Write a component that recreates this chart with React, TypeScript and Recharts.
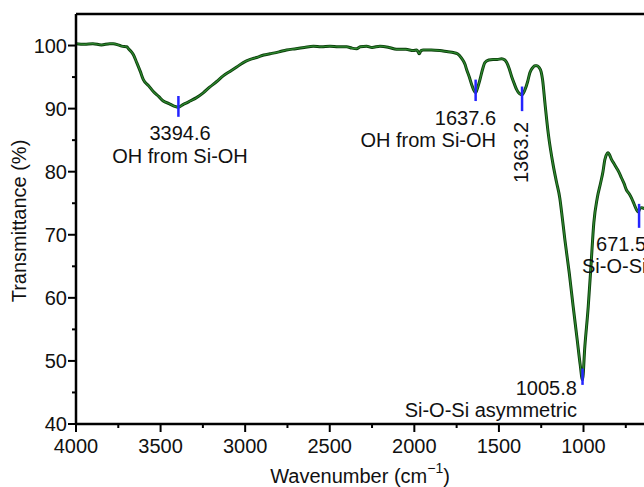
import { LineChart, Line, XAxis, YAxis, ReferenceLine, ReferenceDot, Label } from 'recharts';

// FTIR spectrum (wavenumber in cm-1, descending)
const wavenumber = [
  4000, 3950, 3900, 3850, 3800, 3780, 3750, 3730, 3700, 3690, 3670, 3660, 3641, 3620, 3602,
  3570, 3543, 3510, 3484, 3450, 3420, 3395, 3370, 3340, 3326, 3290, 3248, 3210, 3168, 3130,
  3090, 3050, 3011, 2970, 2932, 2890, 2853, 2800, 2755, 2700, 2650, 2597, 2550, 2499, 2450,
  2400, 2370, 2341, 2320, 2282, 2250, 2203, 2150, 2105, 2050, 2006, 1985, 1971, 1960, 1947,
  1900, 1849, 1800, 1770, 1745, 1721, 1700, 1691, 1675, 1661, 1650, 1638, 1625, 1612, 1597,
  1583, 1560, 1534, 1510, 1484, 1465, 1454, 1440, 1425, 1410, 1395, 1380, 1363, 1346, 1330,
  1317, 1300, 1287, 1275, 1262, 1250, 1242, 1228, 1208, 1179, 1160, 1140, 1125, 1110, 1084,
  1061, 1037, 1020, 1006, 992, 972, 956, 939, 919, 899, 885, 874, 860, 854, 845,
  834, 820, 805, 790, 775, 760, 746, 730, 716, 700, 687, 675, 667, 655, 640,
];
const transmittance = [
  100.3, 100.2, 100.3, 100.1, 100.3, 100.3, 100.1, 99.9, 99.8, 99.5, 98.9, 98.5, 97.3, 95.9, 94.6,
  93.6, 92.7, 91.9, 91.2, 90.8, 90.4, 90.2, 90.6, 91.0, 91.2, 91.7, 92.5, 93.4, 94.3, 95.2,
  95.9, 96.6, 97.3, 97.8, 98.1, 98.5, 98.7, 99.0, 99.3, 99.5, 99.7, 99.9, 99.8, 99.9, 99.8,
  99.8, 99.6, 99.5, 99.8, 99.9, 99.7, 99.9, 99.7, 99.4, 99.4, 99.2, 99.3, 98.7, 99.2, 99.3,
  99.3, 99.2, 99.0, 98.9, 98.7, 98.0, 97.0, 96.2, 95.0, 93.8, 93.0, 92.5, 93.4, 94.6, 96.2,
  97.3, 97.7, 97.8, 97.8, 97.9, 97.7, 97.3, 96.4, 95.1, 94.0, 93.0, 92.4, 92.2, 93.0, 94.3,
  95.7, 96.5, 96.8, 96.8, 96.5, 95.8, 94.6, 90.9, 86.0, 81.0, 78.4, 75.8, 72.6, 69.2, 63.9,
  58.6, 53.3, 49.5, 47.0, 52.3, 58.6, 65.0, 71.9, 75.8, 78.2, 80.0, 81.9, 82.9, 83.0, 82.6,
  81.9, 81.3, 80.6, 79.9, 79.0, 78.1, 77.1, 76.5, 75.8, 74.8, 74.0, 73.6, 74.2, 74.3, 74.1,
];

// blue peak markers
const peakWn = [3394.6, 1637.6, 1363.2, 1005.8, 671.5];
const peakLow = [88.7, 91.2, 89.6, 46.2, 71.1];
const peakHigh = [92.0, 94.6, 93.5, 48.8, 74.9];

// annotation lines (one entry per text line)
const noteText = ['3394.6', 'OH from Si-OH', '1637.6', 'OH from Si-OH', '1363.2', '1005.8', 'Si-O-Si asymmetric', '671.5', 'Si-O-Si'];
const noteWn = [3385, 3385, 1517, 1517, 1328, 1039, 1039, 926, 1009];
const noteT = [85.0, 81.4, 87.4, 83.9, 87.9, 44.6, 41.1, 67.4, 63.9];
const noteAnchor = ['middle', 'middle', 'end', 'end', 'end', 'end', 'end', 'start', 'start'];
const noteRotate = [0, 0, 0, 0, -90, 0, 0, 0, 0];

const xTicks = [4000, 3750, 3500, 3250, 3000, 2750, 2500, 2250, 2000, 1750, 1500, 1250, 1000, 750];
const yTicks = [40, 45, 50, 55, 60, 65, 70, 75, 80, 85, 90, 95, 100];

const data = wavenumber.map((wn, i) => ({ wn, t: transmittance[i] }));

const FONT = '"Liberation Sans", Arial, Helvetica, sans-serif';
const INK = '#111';

function YTick({ x, y, payload }: any) {
  const major = payload.value % 10 === 0;
  return (
    <g>
      <line x1={x - (major ? 8 : 4)} x2={x} y1={y} y2={y} stroke="#000" strokeWidth={2} />
      {major && (
        <text x={x - 9} y={y} dy={7} textAnchor="end" fontFamily={FONT} fontSize={20} fill={INK}>
          {payload.value}
        </text>
      )}
    </g>
  );
}

function XTick({ x, y, payload }: any) {
  const major = payload.value % 500 === 0;
  return (
    <g>
      <line x1={x} x2={x} y1={y} y2={y + (major ? 8 : 4)} stroke="#000" strokeWidth={2} />
      {major && (
        <text x={x} y={y + 29} textAnchor="middle" fontFamily={FONT} fontSize={20} fill={INK}>
          {payload.value}
        </text>
      )}
    </g>
  );
}

function XTitle({ viewBox }: any) {
  const cx = viewBox.x + 284;
  const by = viewBox.y + 59;
  return (
    <text x={cx} y={by} textAnchor="middle" fontFamily={FONT} fontSize={20} fill={INK}>
      <tspan>Wavenumber (cm</tspan>
      <tspan dy={-10} fontSize={14}>−1</tspan>
      <tspan dy={10}>)</tspan>
    </text>
  );
}

function YTitle({ viewBox }: any) {
  const x = viewBox.x + 26;
  const y = viewBox.y + viewBox.height / 2 + 2;
  return (
    <text x={x} y={y} textAnchor="middle" transform={`rotate(-90, ${x}, ${y})`} fontFamily={FONT} fontSize={20} fill={INK}>
      Transmittance (%)
    </text>
  );
}

function Note({ viewBox, text, anchor, rot }: any) {
  const x = viewBox.x;
  const y = viewBox.y;
  return (
    <text
      x={x}
      y={y}
      textAnchor={anchor}
      transform={rot ? `rotate(${rot}, ${x}, ${y})` : undefined}
      fontFamily={FONT}
      fontSize={20}
      fill={INK}
    >
      {text}
    </text>
  );
}

export default function App() {
  return (
    <div style={{ position: 'fixed', left: 0, top: 0, width: 644, height: 487, overflow: 'hidden', background: '#fff' }}>
      <LineChart width={700} height={487} data={data} margin={{ top: 14, right: 15, bottom: 0, left: 0 }}>
        <XAxis
          type="number"
          dataKey="wn"
          domain={[400, 4000]}
          reversed
          ticks={xTicks}
          interval={0}
          height={63}
          tickSize={0}
          tickMargin={0}
          tickLine={false}
          axisLine={{ stroke: '#000', strokeWidth: 2.5 }}
          tick={<XTick />}
        >
          <Label content={<XTitle />} />
        </XAxis>
        <YAxis
          type="number"
          domain={[40, 105]}
          ticks={yTicks}
          interval={0}
          width={76}
          tickSize={0}
          tickMargin={0}
          tickLine={false}
          axisLine={{ stroke: '#000', strokeWidth: 2.5 }}
          tick={<YTick />}
        >
          <Label content={<YTitle />} />
        </YAxis>
        <ReferenceLine y={105} stroke="#000" strokeWidth={2.5} />
        <ReferenceLine x={400} stroke="#000" strokeWidth={2.5} />
        <Line
          type="monotone"
          dataKey="t"
          stroke="#0c3f0c"
          strokeWidth={3}
          dot={false}
          activeDot={false}
          isAnimationActive={false}
        />
        <Line
          type="monotone"
          dataKey="t"
          stroke="#2f8a2f"
          strokeWidth={1.2}
          dot={false}
          activeDot={false}
          isAnimationActive={false}
        />
        {peakWn.map((wn, i) => (
          <ReferenceLine
            key={`p${i}`}
            segment={[{ x: wn, y: peakLow[i] }, { x: wn, y: peakHigh[i] }]}
            stroke="#2424ff"
            strokeWidth={2.5}
          />
        ))}
        {noteText.map((text, i) => (
          <ReferenceDot
            key={`n${i}`}
            x={noteWn[i]}
            y={noteT[i]}
            r={0}
            fill="none"
            stroke="none"
            label={<Note text={text} anchor={noteAnchor[i]} rot={noteRotate[i]} />}
          />
        ))}
      </LineChart>
    </div>
  );
}
